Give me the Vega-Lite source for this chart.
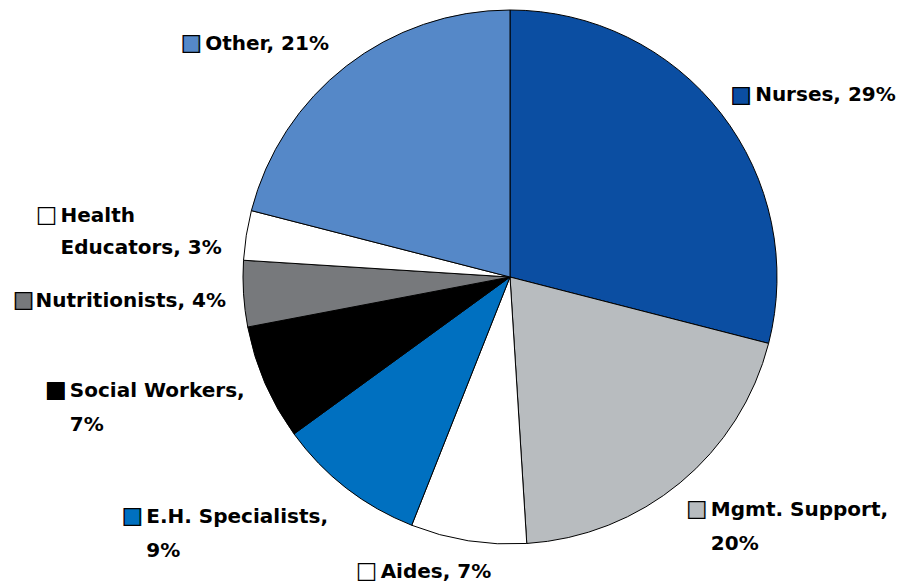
{
  "$schema": "https://vega.github.io/schema/vega-lite/v6.json",
  "width": 780,
  "height": 554,
  "autosize": {"type": "none"},
  "padding": {"left": 120, "top": 0, "right": 0, "bottom": 30},
  "background": "#ffffff",
  "config": {"view": {"stroke": null}},
  "data": {
    "values": [
      {"category": "Nurses", "value": 29, "order": 1, "label": "Nurses, 29%"},
      {"category": "Mgmt. Support", "value": 20, "order": 2, "label": "Mgmt. Support,\n20%"},
      {"category": "Aides", "value": 7, "order": 3, "label": "Aides, 7%"},
      {"category": "E.H. Specialists", "value": 9, "order": 4, "label": "E.H. Specialists,\n9%"},
      {"category": "Social Workers", "value": 7, "order": 5, "label": "Social Workers,\n7%"},
      {"category": "Nutritionists", "value": 4, "order": 6, "label": "Nutritionists, 4%"},
      {"category": "Health Educators", "value": 3, "order": 7, "label": "Health\nEducators, 3%"},
      {"category": "Other", "value": 21, "order": 8, "label": "Other, 21%"}
    ]
  },
  "encoding": {
    "theta": {"field": "value", "type": "quantitative", "stack": true, "scale": {"domain": [0, 100]}},
    "order": {"field": "order", "type": "quantitative"},
    "detail": {"field": "category", "type": "nominal"}
  },
  "layer": [
    {
      "mark": {"type": "arc", "outerRadius": 267, "stroke": "#000000", "strokeWidth": 1},
      "encoding": {
        "color": {"field": "category", "type": "nominal", "legend": null,
          "scale": {"domain": ["Nurses", "Mgmt. Support", "Aides", "E.H. Specialists", "Social Workers", "Nutritionists", "Health Educators", "Other"],
                    "range": ["#0b4ea2", "#b8bcbf", "#ffffff", "#0070c0", "#000000", "#77797c", "#ffffff", "#5588c8"]}}
      }
    },

    {"mark": {"type": "text", "radius": 290, "dx": 2, "dy": -4, "align": "center", "baseline": "middle", "font": "DejaVu Sans", "fontSize": 23},
     "encoding": {"text": {"condition": {"test": "datum.category === 'Nurses'", "value": "■"}, "value": ""}, "color": {"field": "category", "type": "nominal", "legend": null}}},
    {"mark": {"type": "text", "radius": 290, "dx": 2, "dy": -4, "align": "center", "baseline": "middle", "font": "DejaVu Sans", "fontSize": 23, "color": "#000000"},
     "encoding": {"text": {"condition": {"test": "datum.category === 'Nurses'", "value": "□"}, "value": ""}}},
    {"mark": {"type": "text", "radius": 290, "dx": 16, "dy": 2, "align": "left", "baseline": "alphabetic", "font": "DejaVu Sans", "fontWeight": "bold", "fontSize": 20, "lineHeight": 34, "lineBreak": "\n", "color": "#000000"},
     "encoding": {"text": {"condition": {"test": "datum.category === 'Nurses'", "field": "label", "type": "nominal"}, "value": ""}}},

    {"mark": {"type": "text", "radius": 290, "dx": 2, "dy": 9, "align": "center", "baseline": "middle", "font": "DejaVu Sans", "fontSize": 23},
     "encoding": {"text": {"condition": {"test": "datum.category === 'Mgmt. Support'", "value": "■"}, "value": ""}, "color": {"field": "category", "type": "nominal", "legend": null}}},
    {"mark": {"type": "text", "radius": 290, "dx": 2, "dy": 9, "align": "center", "baseline": "middle", "font": "DejaVu Sans", "fontSize": 23, "color": "#000000"},
     "encoding": {"text": {"condition": {"test": "datum.category === 'Mgmt. Support'", "value": "□"}, "value": ""}}},
    {"mark": {"type": "text", "radius": 290, "dx": 16, "dy": 16, "align": "left", "baseline": "alphabetic", "font": "DejaVu Sans", "fontWeight": "bold", "fontSize": 20, "lineHeight": 34, "lineBreak": "\n", "color": "#000000"},
     "encoding": {"text": {"condition": {"test": "datum.category === 'Mgmt. Support'", "field": "label", "type": "nominal"}, "value": ""}}},

    {"mark": {"type": "text", "radius": 290, "dx": -98, "dy": 8, "align": "center", "baseline": "middle", "font": "DejaVu Sans", "fontSize": 23},
     "encoding": {"text": {"condition": {"test": "datum.category === 'Aides'", "value": "■"}, "value": ""}, "color": {"field": "category", "type": "nominal", "legend": null}}},
    {"mark": {"type": "text", "radius": 290, "dx": -98, "dy": 8, "align": "center", "baseline": "middle", "font": "DejaVu Sans", "fontSize": 23, "color": "#000000"},
     "encoding": {"text": {"condition": {"test": "datum.category === 'Aides'", "value": "□"}, "value": ""}}},
    {"mark": {"type": "text", "radius": 290, "dx": -84, "dy": 15, "align": "left", "baseline": "alphabetic", "font": "DejaVu Sans", "fontWeight": "bold", "fontSize": 20, "lineHeight": 34, "lineBreak": "\n", "color": "#000000"},
     "encoding": {"text": {"condition": {"test": "datum.category === 'Aides'", "field": "label", "type": "nominal"}, "value": ""}}},

    {"mark": {"type": "text", "radius": 290, "dx": -200, "dy": 10, "align": "center", "baseline": "middle", "font": "DejaVu Sans", "fontSize": 23},
     "encoding": {"text": {"condition": {"test": "datum.category === 'E.H. Specialists'", "value": "■"}, "value": ""}, "color": {"field": "category", "type": "nominal", "legend": null}}},
    {"mark": {"type": "text", "radius": 290, "dx": -200, "dy": 10, "align": "center", "baseline": "middle", "font": "DejaVu Sans", "fontSize": 23, "color": "#000000"},
     "encoding": {"text": {"condition": {"test": "datum.category === 'E.H. Specialists'", "value": "□"}, "value": ""}}},
    {"mark": {"type": "text", "radius": 290, "dx": -186, "dy": 17, "align": "left", "baseline": "alphabetic", "font": "DejaVu Sans", "fontWeight": "bold", "fontSize": 20, "lineHeight": 34, "lineBreak": "\n", "color": "#000000"},
     "encoding": {"text": {"condition": {"test": "datum.category === 'E.H. Specialists'", "field": "label", "type": "nominal"}, "value": ""}}},

    {"mark": {"type": "text", "radius": 290, "dx": -188, "dy": -2, "align": "center", "baseline": "middle", "font": "DejaVu Sans", "fontSize": 23},
     "encoding": {"text": {"condition": {"test": "datum.category === 'Social Workers'", "value": "■"}, "value": ""}, "color": {"field": "category", "type": "nominal", "legend": null}}},
    {"mark": {"type": "text", "radius": 290, "dx": -188, "dy": -2, "align": "center", "baseline": "middle", "font": "DejaVu Sans", "fontSize": 23, "color": "#000000"},
     "encoding": {"text": {"condition": {"test": "datum.category === 'Social Workers'", "value": "□"}, "value": ""}}},
    {"mark": {"type": "text", "radius": 290, "dx": -174, "dy": 5, "align": "left", "baseline": "alphabetic", "font": "DejaVu Sans", "fontWeight": "bold", "fontSize": 20, "lineHeight": 34, "lineBreak": "\n", "color": "#000000"},
     "encoding": {"text": {"condition": {"test": "datum.category === 'Social Workers'", "field": "label", "type": "nominal"}, "value": ""}}},

    {"mark": {"type": "text", "radius": 290, "dx": -197, "dy": 5, "align": "center", "baseline": "middle", "font": "DejaVu Sans", "fontSize": 23},
     "encoding": {"text": {"condition": {"test": "datum.category === 'Nutritionists'", "value": "■"}, "value": ""}, "color": {"field": "category", "type": "nominal", "legend": null}}},
    {"mark": {"type": "text", "radius": 290, "dx": -197, "dy": 5, "align": "center", "baseline": "middle", "font": "DejaVu Sans", "fontSize": 23, "color": "#000000"},
     "encoding": {"text": {"condition": {"test": "datum.category === 'Nutritionists'", "value": "□"}, "value": ""}}},
    {"mark": {"type": "text", "radius": 290, "dx": -185, "dy": 12, "align": "left", "baseline": "alphabetic", "font": "DejaVu Sans", "fontWeight": "bold", "fontSize": 20, "lineHeight": 34, "lineBreak": "\n", "color": "#000000"},
     "encoding": {"text": {"condition": {"test": "datum.category === 'Nutritionists'", "field": "label", "type": "nominal"}, "value": ""}}},

    {"mark": {"type": "text", "radius": 290, "dx": -177, "dy": -17, "align": "center", "baseline": "middle", "font": "DejaVu Sans", "fontSize": 23},
     "encoding": {"text": {"condition": {"test": "datum.category === 'Health Educators'", "value": "■"}, "value": ""}, "color": {"field": "category", "type": "nominal", "legend": null}}},
    {"mark": {"type": "text", "radius": 290, "dx": -177, "dy": -17, "align": "center", "baseline": "middle", "font": "DejaVu Sans", "fontSize": 23, "color": "#000000"},
     "encoding": {"text": {"condition": {"test": "datum.category === 'Health Educators'", "value": "□"}, "value": ""}}},
    {"mark": {"type": "text", "radius": 290, "dx": -163, "dy": -10, "align": "left", "baseline": "alphabetic", "font": "DejaVu Sans", "fontWeight": "bold", "fontSize": 20, "lineHeight": 32, "lineBreak": "\n", "color": "#000000"},
     "encoding": {"text": {"condition": {"test": "datum.category === 'Health Educators'", "field": "label", "type": "nominal"}, "value": ""}}},

    {"mark": {"type": "text", "radius": 290, "dx": -141, "dy": -5, "align": "center", "baseline": "middle", "font": "DejaVu Sans", "fontSize": 23},
     "encoding": {"text": {"condition": {"test": "datum.category === 'Other'", "value": "■"}, "value": ""}, "color": {"field": "category", "type": "nominal", "legend": null}}},
    {"mark": {"type": "text", "radius": 290, "dx": -141, "dy": -5, "align": "center", "baseline": "middle", "font": "DejaVu Sans", "fontSize": 23, "color": "#000000"},
     "encoding": {"text": {"condition": {"test": "datum.category === 'Other'", "value": "□"}, "value": ""}}},
    {"mark": {"type": "text", "radius": 290, "dx": -127, "dy": 2, "align": "left", "baseline": "alphabetic", "font": "DejaVu Sans", "fontWeight": "bold", "fontSize": 20, "lineHeight": 34, "lineBreak": "\n", "color": "#000000"},
     "encoding": {"text": {"condition": {"test": "datum.category === 'Other'", "field": "label", "type": "nominal"}, "value": ""}}}
  ]
}
